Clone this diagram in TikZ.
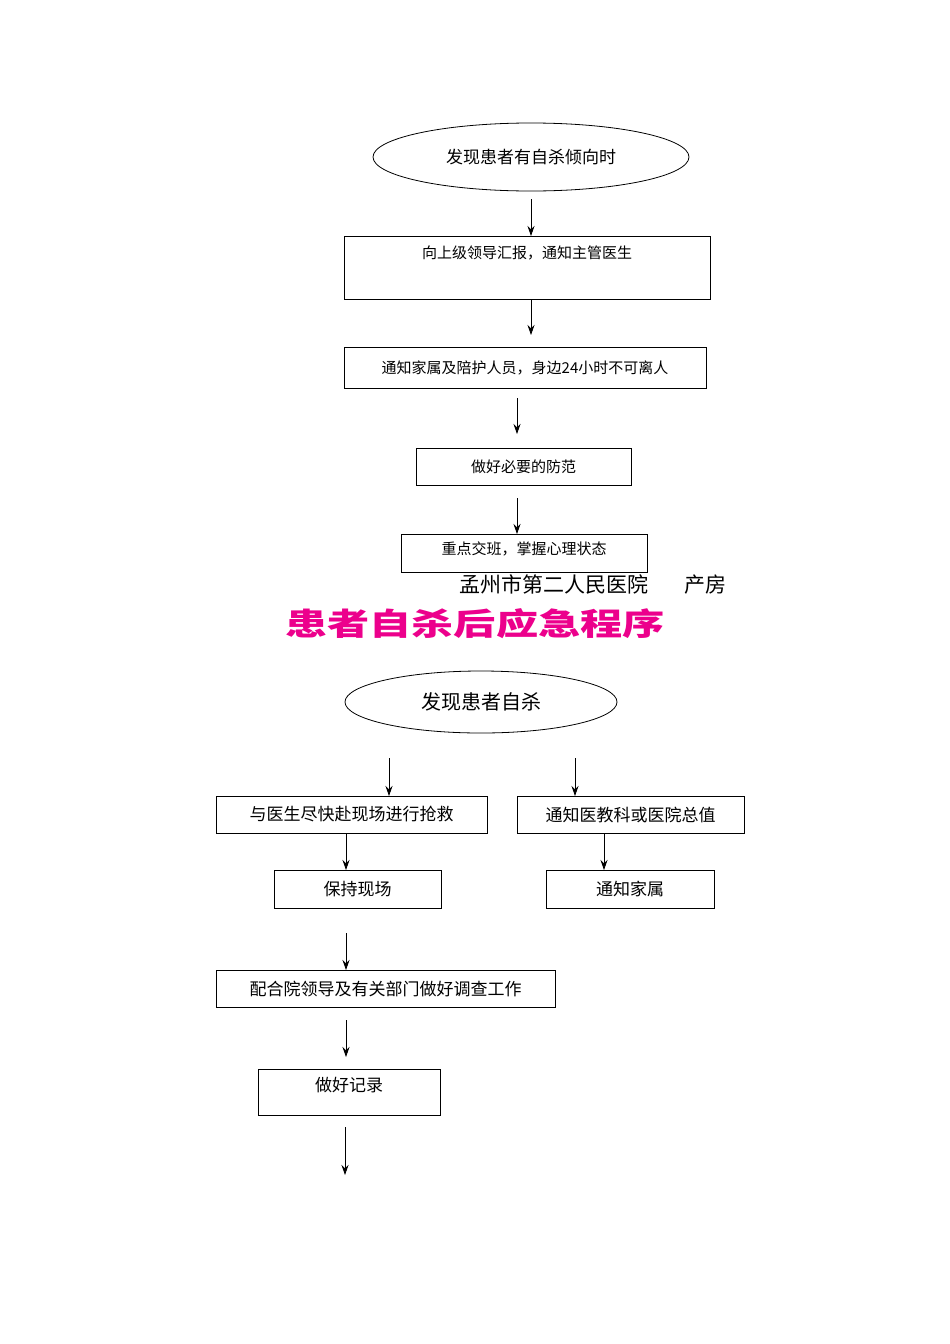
\documentclass[tikz,border=0pt]{standalone}
\usepackage{fontspec}
\setmainfont{Liberation Serif}
\newfontfamily\cjk{Noto Sans CJK SC}
\newfontfamily\cjkb{Noto Sans CJK SC Black}
\usetikzlibrary{shapes.geometric,arrows.meta}
\begin{document}
\begin{tikzpicture}[x=1pt,y=-1pt,
  box/.style={draw,line width=0.8pt,inner sep=0pt,font=\cjk\fontsize{15}{15}\selectfont},
  ell/.style={draw,ellipse,line width=0.8pt,inner sep=0pt},
  arr/.style={line width=0.8pt,-{Stealth[length=10pt,width=7pt]}}]
\useasboundingbox (0,0) rectangle (950,1344);
\fill[white] (0,0) rectangle (950,1344);
% top flow
\node[ell,minimum width=316,minimum height=68,font=\cjk\fontsize{17}{17}\selectfont] (e1) at (531,157) {发现患者有自杀倾向时};
\node[box,minimum width=366,minimum height=63] (b2) at (527,267.5) {};
\node[font=\cjk\fontsize{15}{15}\selectfont] (t2) at (527,253) {向上级领导汇报，通知主管医生};
\node[box,minimum width=362,minimum height=41] (b3) at (525,367.5) {通知家属及陪护人员，身边24小时不可离人};
\node[box,minimum width=215,minimum height=37] (b4) at (523.5,466.5) {做好必要的防范};
\node[box,minimum width=246,minimum height=38] (b5) at (524,553) {};
\node[font=\cjk\fontsize{15}{15}\selectfont] (t5) at (524,549) {重点交班，掌握心理状态};
\coordinate (a1s) at (531,199); \coordinate (a1e) at (531,236);
\coordinate (a2s) at (531,299); \coordinate (a2e) at (531,335);
\coordinate (a3s) at (517,398); \coordinate (a3e) at (517,434);
\coordinate (a4s) at (517,498); \coordinate (a4e) at (517,534);
\draw[arr] (a1s) -- (a1e);
\draw[arr] (a2s) -- (a2e);
\draw[arr] (a3s) -- (a3e);
\draw[arr] (a4s) -- (a4e);
\node[anchor=west,font=\cjk\fontsize{21}{21}\selectfont] (hosp) at (456,585) {孟州市第二人民医院\hspace{1.7em}产房};
\node[text=magenta,font=\cjkb\fontsize{31}{31}\selectfont,xscale=1.36] (title) at (475,624) {患者自杀后应急程序};
% bottom flow
\node[ell,minimum width=272,minimum height=62,font=\cjk\fontsize{20}{20}\selectfont] (e2) at (481,702) {发现患者自杀};
\node[box,minimum width=271,minimum height=37,font=\cjk\fontsize{17}{17}\selectfont] (l1) at (351.5,814.5) {与医生尽快赴现场进行抢救};
\node[box,minimum width=227,minimum height=37,font=\cjk\fontsize{17}{17}\selectfont] (r1) at (630.5,814.5) {通知医教科或医院总值};
\node[box,minimum width=167,minimum height=38,font=\cjk\fontsize{17}{17}\selectfont] (l2) at (357.5,889) {保持现场};
\node[box,minimum width=168,minimum height=38,font=\cjk\fontsize{17}{17}\selectfont] (r2) at (630,889) {通知家属};
\node[box,minimum width=339,minimum height=37,font=\cjk\fontsize{17}{17}\selectfont] (l3) at (385.5,988.5) {配合院领导及有关部门做好调查工作};
\node[box,minimum width=182,minimum height=46] (l4) at (349,1092) {};
\node[font=\cjk\fontsize{17}{17}\selectfont] (t4) at (349,1085) {做好记录};
\coordinate (b1s) at (389,758); \coordinate (b1e) at (389,796);
\coordinate (b2s) at (575,758); \coordinate (b2e) at (575,796);
\coordinate (b3s) at (346,833); \coordinate (b3e) at (346,870);
\coordinate (b4s) at (604,833); \coordinate (b4e) at (604,870);
\coordinate (b5s) at (346,933); \coordinate (b5e) at (346,970);
\coordinate (b6s) at (346,1020); \coordinate (b6e) at (346,1057);
\coordinate (b7s) at (345,1127); \coordinate (b7e) at (345,1175);
\foreach \i in {1,...,7} \draw[arr] (b\i s) -- (b\i e);
\end{tikzpicture}
\end{document}
